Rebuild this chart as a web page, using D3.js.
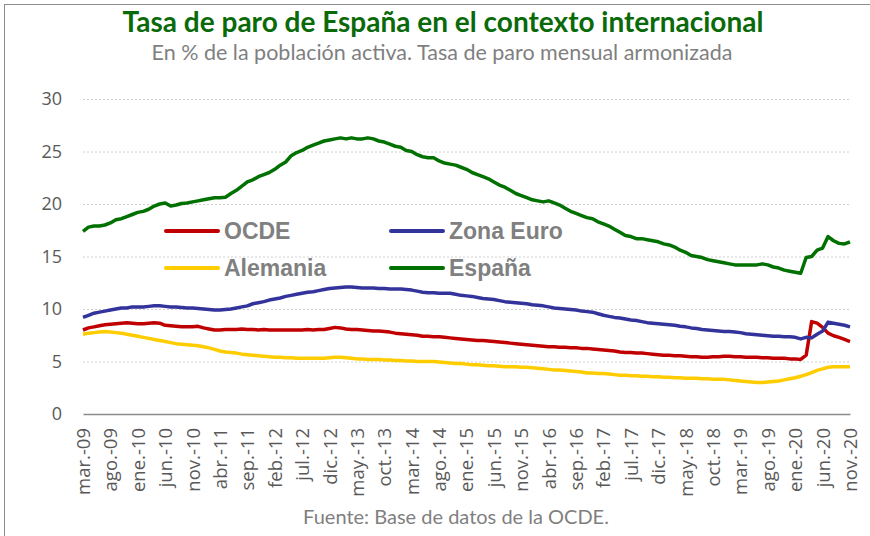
<!DOCTYPE html>
<html>
<head>
<meta charset="utf-8">
<script src="https://cdn.jsdelivr.net/npm/d3@7"></script>
<style>
  body { margin: 0; background: #fff; }
  svg { display: block; }
</style>
</head>
<body>
<div id="chart"></div>
<script>
// months: mar-09 .. nov-20
const startYear = 2009, startMonth = 2; // march (0-based)
const monthNames = ['ene.', 'feb.', 'mar.', 'abr.', 'may.', 'jun.', 'jul.', 'ago.', 'sep.', 'oct.', 'nov.', 'dic.'];

// Tasa de paro (%), por año, desde mar-09
const ocde = [
  8.0, 8.2, 8.3, 8.4, 8.5, 8.55, 8.6, 8.65, 8.7, 8.65,
  8.6, 8.6, 8.65, 8.7, 8.65, 8.45, 8.4, 8.35, 8.3, 8.3, 8.3, 8.35,
  8.2, 8.1, 8.0, 8.0, 8.05, 8.05, 8.05, 8.1, 8.05, 8.05, 8.0, 8.05,
  8.0, 8.0, 8.0, 8.0, 8.0, 8.0, 8.0, 8.05, 8.0, 8.05, 8.05, 8.15,
  8.25, 8.2, 8.1, 8.05, 8.05, 8.0, 7.95, 7.9, 7.9, 7.85, 7.8, 7.7,
  7.65, 7.6, 7.55, 7.5, 7.4, 7.4, 7.35, 7.35, 7.3, 7.25, 7.2, 7.15,
  7.1, 7.05, 7.0, 7.0, 6.95, 6.9, 6.85, 6.8, 6.75, 6.7, 6.65, 6.6,
  6.55, 6.5, 6.45, 6.4, 6.4, 6.35, 6.35, 6.3, 6.3, 6.25, 6.25, 6.2,
  6.15, 6.1, 6.05, 6.0, 5.9, 5.85, 5.85, 5.8, 5.8, 5.75, 5.7, 5.65,
  5.6, 5.6, 5.55, 5.55, 5.5, 5.45, 5.45, 5.4, 5.4, 5.45, 5.45, 5.5,
  5.5, 5.45, 5.45, 5.4, 5.4, 5.4, 5.35, 5.35, 5.3, 5.3, 5.3, 5.25,
  5.25, 5.2, 5.6, 8.8, 8.65, 8.25, 7.7, 7.45, 7.3, 7.1, 6.9
];

const zonaEuro = [
  9.2, 9.4, 9.6, 9.7, 9.8, 9.9, 10.0, 10.1, 10.1, 10.2,
  10.2, 10.2, 10.25, 10.3, 10.3, 10.25, 10.2, 10.2, 10.15, 10.1, 10.1, 10.05,
  10.0, 9.95, 9.9, 9.9, 9.95, 10.0, 10.1, 10.2, 10.3, 10.5, 10.6, 10.7,
  10.85, 10.95, 11.05, 11.2, 11.3, 11.4, 11.5, 11.6, 11.65, 11.75, 11.85, 11.95,
  12.0, 12.05, 12.1, 12.1, 12.05, 12.0, 12.0, 12.0, 11.95, 11.95, 11.9, 11.9,
  11.9, 11.85, 11.8, 11.7, 11.6, 11.55, 11.55, 11.5, 11.5, 11.5, 11.4, 11.3,
  11.25, 11.2, 11.1, 11.0, 10.95, 10.9, 10.8, 10.7, 10.65, 10.6, 10.55, 10.5,
  10.4, 10.35, 10.3, 10.2, 10.1, 10.05, 10.0, 9.95, 9.9, 9.8, 9.75, 9.7,
  9.55, 9.4, 9.3, 9.2, 9.15, 9.05, 8.95, 8.9, 8.8, 8.7, 8.65, 8.6,
  8.55, 8.5, 8.45, 8.35, 8.3, 8.2, 8.15, 8.05, 8.0, 7.95, 7.9, 7.85,
  7.85, 7.8, 7.75, 7.65, 7.6, 7.55, 7.5, 7.45, 7.4, 7.4, 7.35, 7.35,
  7.3, 7.15, 7.3, 7.25, 7.6, 7.9, 8.75, 8.65, 8.55, 8.45, 8.3
];

const alemania = [
  7.6, 7.7, 7.75, 7.8, 7.85, 7.8, 7.75, 7.7, 7.6, 7.5,
  7.4, 7.3, 7.2, 7.1, 7.0, 6.9, 6.8, 6.7, 6.65, 6.6, 6.55, 6.5,
  6.4, 6.3, 6.15, 6.0, 5.9, 5.85, 5.8, 5.7, 5.65, 5.6, 5.55, 5.5,
  5.45, 5.4, 5.4, 5.35, 5.35, 5.3, 5.3, 5.3, 5.3, 5.3, 5.3, 5.35,
  5.4, 5.4, 5.35, 5.3, 5.25, 5.25, 5.2, 5.2, 5.2, 5.15, 5.15, 5.1,
  5.1, 5.05, 5.05, 5.0, 5.0, 5.0, 5.0, 4.95, 4.9, 4.85, 4.8, 4.8,
  4.75, 4.7, 4.7, 4.65, 4.6, 4.6, 4.55, 4.5, 4.5, 4.5, 4.45, 4.45,
  4.4, 4.35, 4.3, 4.25, 4.2, 4.2, 4.15, 4.1, 4.05, 4.0, 3.9, 3.9,
  3.85, 3.85, 3.8, 3.75, 3.7, 3.7, 3.65, 3.65, 3.6, 3.6, 3.55, 3.55,
  3.5, 3.5, 3.45, 3.45, 3.4, 3.4, 3.4, 3.35, 3.35, 3.3, 3.3, 3.3,
  3.25, 3.2, 3.15, 3.1, 3.05, 3.0, 3.0, 3.05, 3.1, 3.15, 3.25, 3.35,
  3.45, 3.6, 3.75, 3.95, 4.15, 4.3, 4.45, 4.5, 4.5, 4.5, 4.5
];

const espana = [
  17.4, 17.8, 17.9, 17.9, 18.0, 18.2, 18.5, 18.6, 18.8, 19.0,
  19.2, 19.3, 19.5, 19.8, 20.0, 20.1, 19.8, 19.9, 20.05, 20.1, 20.2, 20.3,
  20.4, 20.5, 20.6, 20.6, 20.65, 21.0, 21.3, 21.7, 22.1, 22.3, 22.6, 22.8,
  23.0, 23.3, 23.7, 24.0, 24.6, 24.9, 25.1, 25.4, 25.6, 25.8, 26.0, 26.1,
  26.2, 26.3, 26.2, 26.3, 26.2, 26.2, 26.3, 26.2, 26.0, 25.9, 25.7, 25.5,
  25.4, 25.1, 25.0, 24.7, 24.5, 24.4, 24.4, 24.1, 23.9, 23.8, 23.7, 23.5,
  23.3, 23.0, 22.8, 22.6, 22.4, 22.1, 21.8, 21.6, 21.3, 21.0, 20.8, 20.6,
  20.4, 20.3, 20.2, 20.3, 20.1, 19.9, 19.6, 19.3, 19.1, 18.9, 18.7, 18.6,
  18.3, 18.1, 17.9, 17.6, 17.3, 17.0, 16.9, 16.7, 16.7, 16.6, 16.5, 16.4,
  16.2, 16.1, 15.9, 15.6, 15.4, 15.1, 15.0, 14.9, 14.7, 14.6, 14.5, 14.4,
  14.3, 14.2, 14.2, 14.2, 14.2, 14.2, 14.3, 14.2, 14.0, 13.9, 13.7, 13.6,
  13.5, 13.4, 14.9, 15.0, 15.6, 15.8, 16.9, 16.5, 16.25, 16.2, 16.4
];

const yTicks = [0, 5, 10, 15, 20, 25, 30];

const series = [
  { name: 'OCDE', values: ocde, color: '#c00000' },
  { name: 'Zona Euro', values: zonaEuro, color: '#33339c' },
  { name: 'Alemania', values: alemania, color: '#ffcc00' },
  { name: 'España', values: espana, color: '#007000' }
];

const months = ocde.map((d, i) => {
  const m = startMonth + i;
  return monthNames[m % 12] + '-' + String((startYear + Math.floor(m / 12)) % 100).padStart(2, '0');
});

const width = 870, height = 536;
const margin = { left: 83, right: 20, top: 99, bottom: 122 };

const svg = d3.select('#chart').append('svg')
  .attr('width', width)
  .attr('height', height);

// marco
svg.append('rect')
  .attr('x', 4.5).attr('y', 4.5)
  .attr('width', width + 10).attr('height', height + 10)
  .attr('fill', 'none')
  .attr('stroke', '#8c8c8c')
  .attr('stroke-width', 1);

const x = d3.scalePoint()
  .domain(months)
  .range([margin.left, 850]);

const y = d3.scaleLinear()
  .domain([0, 30])
  .range([414, 99]);

// gridlines
svg.append('g')
  .selectAll('line')
  .data(yTicks.filter(d => d > 0))
  .enter().append('line')
  .attr('x1', margin.left).attr('x2', 850)
  .attr('y1', d => y(d) + 0.5).attr('y2', d => y(d) + 0.5)
  .attr('stroke', '#d0d0d0')
  .attr('stroke-width', 1)
  .attr('stroke-dasharray', '2,2');

// eje y
const yAxis = svg.append('g')
  .attr('transform', 'translate(' + 62 + ',0)')
  .call(d3.axisLeft(y).tickValues(yTicks).tickSize(0).tickPadding(0));
yAxis.select('.domain').remove();
yAxis.selectAll('text')
  .style('font-family', '"Open Sans", sans-serif')
  .style('font-size', '18px')
  .attr('fill', '#595959');

// eje x
const xAxis = svg.append('g')
  .attr('transform', 'translate(0,414)')
  .call(d3.axisBottom(x).tickValues(months.filter((d, i) => i % 5 === 0)).tickSize(0).tickPadding(0));
xAxis.select('.domain')
  .attr('stroke', '#8c8c8c')
  .attr('stroke-width', 1.5);
xAxis.selectAll('text')
  .attr('transform', 'rotate(-90)')
  .attr('x', -14)
  .attr('y', 0)
  .attr('dy', '0.35em')
  .style('text-anchor', 'end')
  .style('font-family', '"Open Sans", sans-serif')
  .style('font-size', '18.5px')
  .attr('fill', '#595959');

// lineas
const line = d3.line()
  .x((d, i) => x(months[i]))
  .y(d => y(d));

svg.append('g')
  .selectAll('path')
  .data(series)
  .enter().append('path')
  .attr('d', d => line(d.values))
  .attr('fill', 'none')
  .attr('stroke', d => d.color)
  .attr('stroke-width', 3.5)
  .attr('stroke-linejoin', 'round');

// leyenda
const legendPos = [[166, 231], [391, 231], [166, 268], [391, 268]];
const legend = svg.append('g')
  .selectAll('g')
  .data(series)
  .enter().append('g')
  .attr('transform', (d, i) => 'translate(' + legendPos[i][0] + ',' + legendPos[i][1] + ')');
legend.append('line')
  .attr('x1', 0).attr('x2', 52)
  .attr('stroke', d => d.color)
  .attr('stroke-width', 4)
  .attr('stroke-linecap', 'round');
legend.append('text')
  .attr('x', 58)
  .attr('dy', '0.36em')
  .style('font-family', '"Liberation Sans", Arial, sans-serif')
  .style('font-weight', 'bold')
  .style('font-size', '23px')
  .attr('fill', '#808080')
  .text(d => d.name);

// titulos
svg.append('text')
  .attr('x', 443).attr('y', 32)
  .style('text-anchor', 'middle')
  .style('font-family', 'Lato, sans-serif')
  .style('font-weight', 'bold')
  .style('font-size', '28px')
  .attr('fill', '#0a6a0a')
  .text('Tasa de paro de España en el contexto internacional');

svg.append('text')
  .attr('x', 442).attr('y', 60)
  .style('text-anchor', 'middle')
  .style('font-family', 'Lato, sans-serif')
  .style('font-size', '21.5px')
  .attr('fill', '#7f7f7f')
  .text('En % de la población activa. Tasa de paro mensual armonizada');

svg.append('text')
  .attr('x', 456).attr('y', 524)
  .style('text-anchor', 'middle')
  .style('font-family', 'Lato, sans-serif')
  .style('font-size', '20px')
  .attr('fill', '#7f7f7f')
  .text('Fuente: Base de datos de la OCDE.');
</script>
</body>
</html>
